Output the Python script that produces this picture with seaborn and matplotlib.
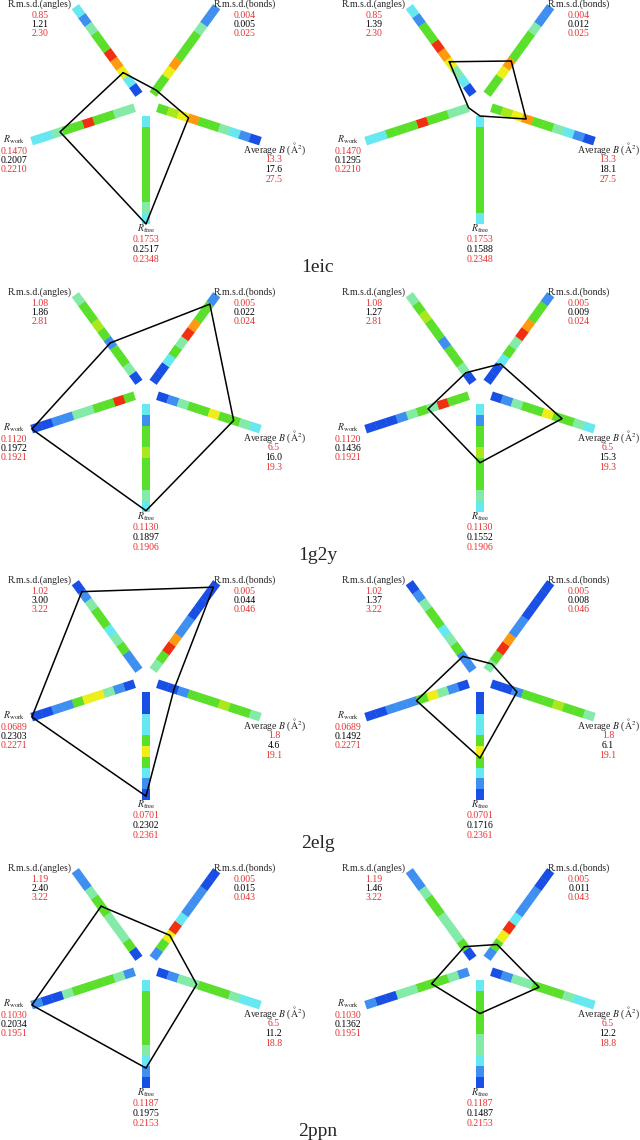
import numpy as np
import matplotlib
matplotlib.use("Agg")
import matplotlib.pyplot as plt
import seaborn as sns

sns.set_style("white")
plt.rcParams["font.family"] = "Liberation Serif"
plt.rcParams["mathtext.fontset"] = "stix"

# structures, one row each
names = ["1eic", "1g2y", "2elg", "2ppn"]

# spoke order: angles, bonds, average B, Rfree, Rwork
lo_angles = ["0.85", "1.08", "1.02", "1.19"]
hi_angles = ["2.30", "2.81", "3.22", "3.22"]
val_angles = [["1.21", "1.39"], ["1.86", "1.27"], ["3.00", "1.37"], ["2.40", "1.46"]]

lo_bonds = ["0.004", "0.005", "0.005", "0.005"]
hi_bonds = ["0.025", "0.024", "0.046", "0.043"]
val_bonds = [["0.005", "0.012"], ["0.022", "0.009"], ["0.044", "0.008"], ["0.015", "0.011"]]

lo_b = ["13.3", "6.5", "1.8", "6.5"]
hi_b = ["27.5", "19.3", "19.1", "18.8"]
val_b = [["17.6", "18.1"], ["16.0", "15.3"], ["4.6", "6.1"], ["11.2", "12.2"]]

lo_rfree = ["0.1753", "0.1130", "0.0701", "0.1187"]
hi_rfree = ["0.2348", "0.1906", "0.2361", "0.2153"]
val_rfree = [["0.2517", "0.1588"], ["0.1897", "0.1552"], ["0.2302", "0.1716"], ["0.1975", "0.1487"]]

lo_rwork = ["0.1470", "0.1120", "0.0689", "0.1030"]
hi_rwork = ["0.2210", "0.1921", "0.2271", "0.1951"]
val_rwork = [["0.2007", "0.1295"], ["0.1972", "0.1436"], ["0.2303", "0.1492"], ["0.2034", "0.1362"]]

# colour class of the 10 spoke segments (inner -> outer), per row, per panel
seg_angles = [[[0,2,6,7,8,4,4,3,1,2], [0,2,3,6,7,8,4,4,1,2]],
              [[0,3,4,4,1,4,5,4,4,3], [0,3,4,4,1,4,4,5,4,3]],
              [[1,1,4,3,2,4,4,3,1,0], [1,1,4,3,2,4,4,3,1,0]],
              [[0,4,3,3,3,4,4,3,1,1], [0,4,3,3,3,4,4,3,1,1]]]
seg_bonds = [[[4,4,6,7,4,4,4,3,1,1], [4,4,6,7,4,4,4,3,1,1]],
             [[0,0,2,4,3,8,7,4,4,1], [0,0,2,4,3,8,7,4,4,1]],
             [[3,4,8,7,1,1,0,0,0,0], [3,4,8,7,1,1,0,0,0,0]],
             [[1,4,6,8,2,1,1,1,0,0], [1,4,6,8,2,1,1,1,0,0]]]
seg_b = [[[4,5,6,7,4,4,3,2,1,0], [4,5,6,7,4,4,3,2,1,0]],
         [[0,1,3,4,4,6,4,4,3,2], [0,1,3,4,4,6,4,4,3,2]],
         [[0,0,1,4,4,4,5,4,4,3], [0,0,1,4,4,4,5,4,4,3]],
         [[0,1,3,3,4,4,4,3,2,2], [0,1,3,3,4,4,4,3,2,2]]]
seg_rfree = [[[2,4,4,4,4,4,4,4,3,2], [2,4,4,4,4,4,4,4,4,2]],
             [[2,1,4,4,5,4,4,4,3,2], [2,1,4,4,5,4,4,4,3,2]],
             [[0,0,2,2,4,6,4,2,1,0], [0,0,2,2,4,6,4,2,1,0]],
             [[2,4,4,4,4,4,3,2,1,0], [2,4,4,4,4,3,3,2,1,0]]]
seg_rwork = [[[3,3,4,4,8,4,4,3,2,2], [3,3,4,4,8,4,4,4,2,2]],
             [[4,8,4,4,3,3,1,1,0,0], [4,4,8,3,4,3,1,0,0,0]],
             [[0,1,3,6,6,4,1,1,0,0], [0,1,3,6,4,1,1,1,0,0]],
             [[1,3,4,4,4,4,3,0,0,1], [1,3,4,4,4,3,3,0,0,1]]]

palette = ["#1a4fe6", "#3f8ff0", "#66e8f0", "#84eaa8", "#5ae02a",
           "#a8e81c", "#eeee1a", "#ff9a10", "#f03010"]

angles_deg = [126, 54, -18, -90, 198]
r0, r1, half_w = 12, 120, 4.4
red = "#e83030"

fig = plt.figure(figsize=(6.4, 11.4), dpi=100)
ax = fig.add_axes([0, 0, 1, 1])
ax.set_xlim(0, 640)
ax.set_ylim(1140, 0)
ax.axis("off")

def unit(a):
    t = np.deg2rad(a)
    return np.array([np.cos(t), -np.sin(t)])

fs = 7
for i, name in enumerate(names):
    cy = 104 + 288 * i
    los = [lo_angles[i], lo_bonds[i], lo_b[i], lo_rfree[i], lo_rwork[i]]
    his = [hi_angles[i], hi_bonds[i], hi_b[i], hi_rfree[i], hi_rwork[i]]
    segs = [seg_angles[i], seg_bonds[i], seg_b[i], seg_rfree[i], seg_rwork[i]]
    for p in range(2):
        cx = 146 + 334 * p
        c = np.array([cx, cy])
        vals = [val_angles[i][p], val_bonds[i][p], val_b[i][p], val_rfree[i][p], val_rwork[i][p]]
        verts = []
        for k, a in enumerate(angles_deg):
            u = unit(a)
            n = np.array([-u[1], u[0]])
            step = (r1 - r0) / 10
            for s, ci in enumerate(segs[k][p]):
                ra, rb = r0 + s * step, r0 + (s + 1) * step + 0.3
                q = np.array([c + u * ra + n * half_w, c + u * rb + n * half_w,
                              c + u * rb - n * half_w, c + u * ra - n * half_w])
                ax.fill(q[:, 0], q[:, 1], color=palette[ci], lw=0)
            lo, hi, v = float(los[k]), float(his[k]), float(vals[k])
            f = np.clip((v - lo) / (hi - lo), 0, 1)
            verts.append(c + u * (r0 + f * (r1 - r0)))
        verts.append(verts[0])
        verts = np.array(verts)
        ax.plot(verts[:, 0], verts[:, 1], color="black", lw=1.1)

        # labels: title, then low / value / high
        blocks = [("R.m.s.d.(angles)", cx - 106, cy - 100, 0),
                  ("R.m.s.d.(bonds)", cx + 99, cy - 100, 1),
                  ("Average $B$ ($\\mathrm{\\AA}^2$)", cx + 128, cy + 45, 2),
                  ("$R_{\\mathrm{free}}$", cx, cy + 125, 3),
                  ("$R_{\\mathrm{work}}$", cx - 132, cy + 36, 4)]
        for title, tx, ty, k in blocks:
            ax.text(tx, ty, title, fontsize=fs, ha="center", va="center")
            ax.text(tx, ty + 11, los[k], fontsize=fs, ha="center", va="center", color=red)
            ax.text(tx, ty + 20.5, vals[k], fontsize=fs, ha="center", va="center", color="black")
            ax.text(tx, ty + 30, his[k], fontsize=fs, ha="center", va="center", color=red)
    ax.text(318, cy + 163, name, fontsize=14, ha="center", va="center")

plt.savefig("out.png", dpi=100)
